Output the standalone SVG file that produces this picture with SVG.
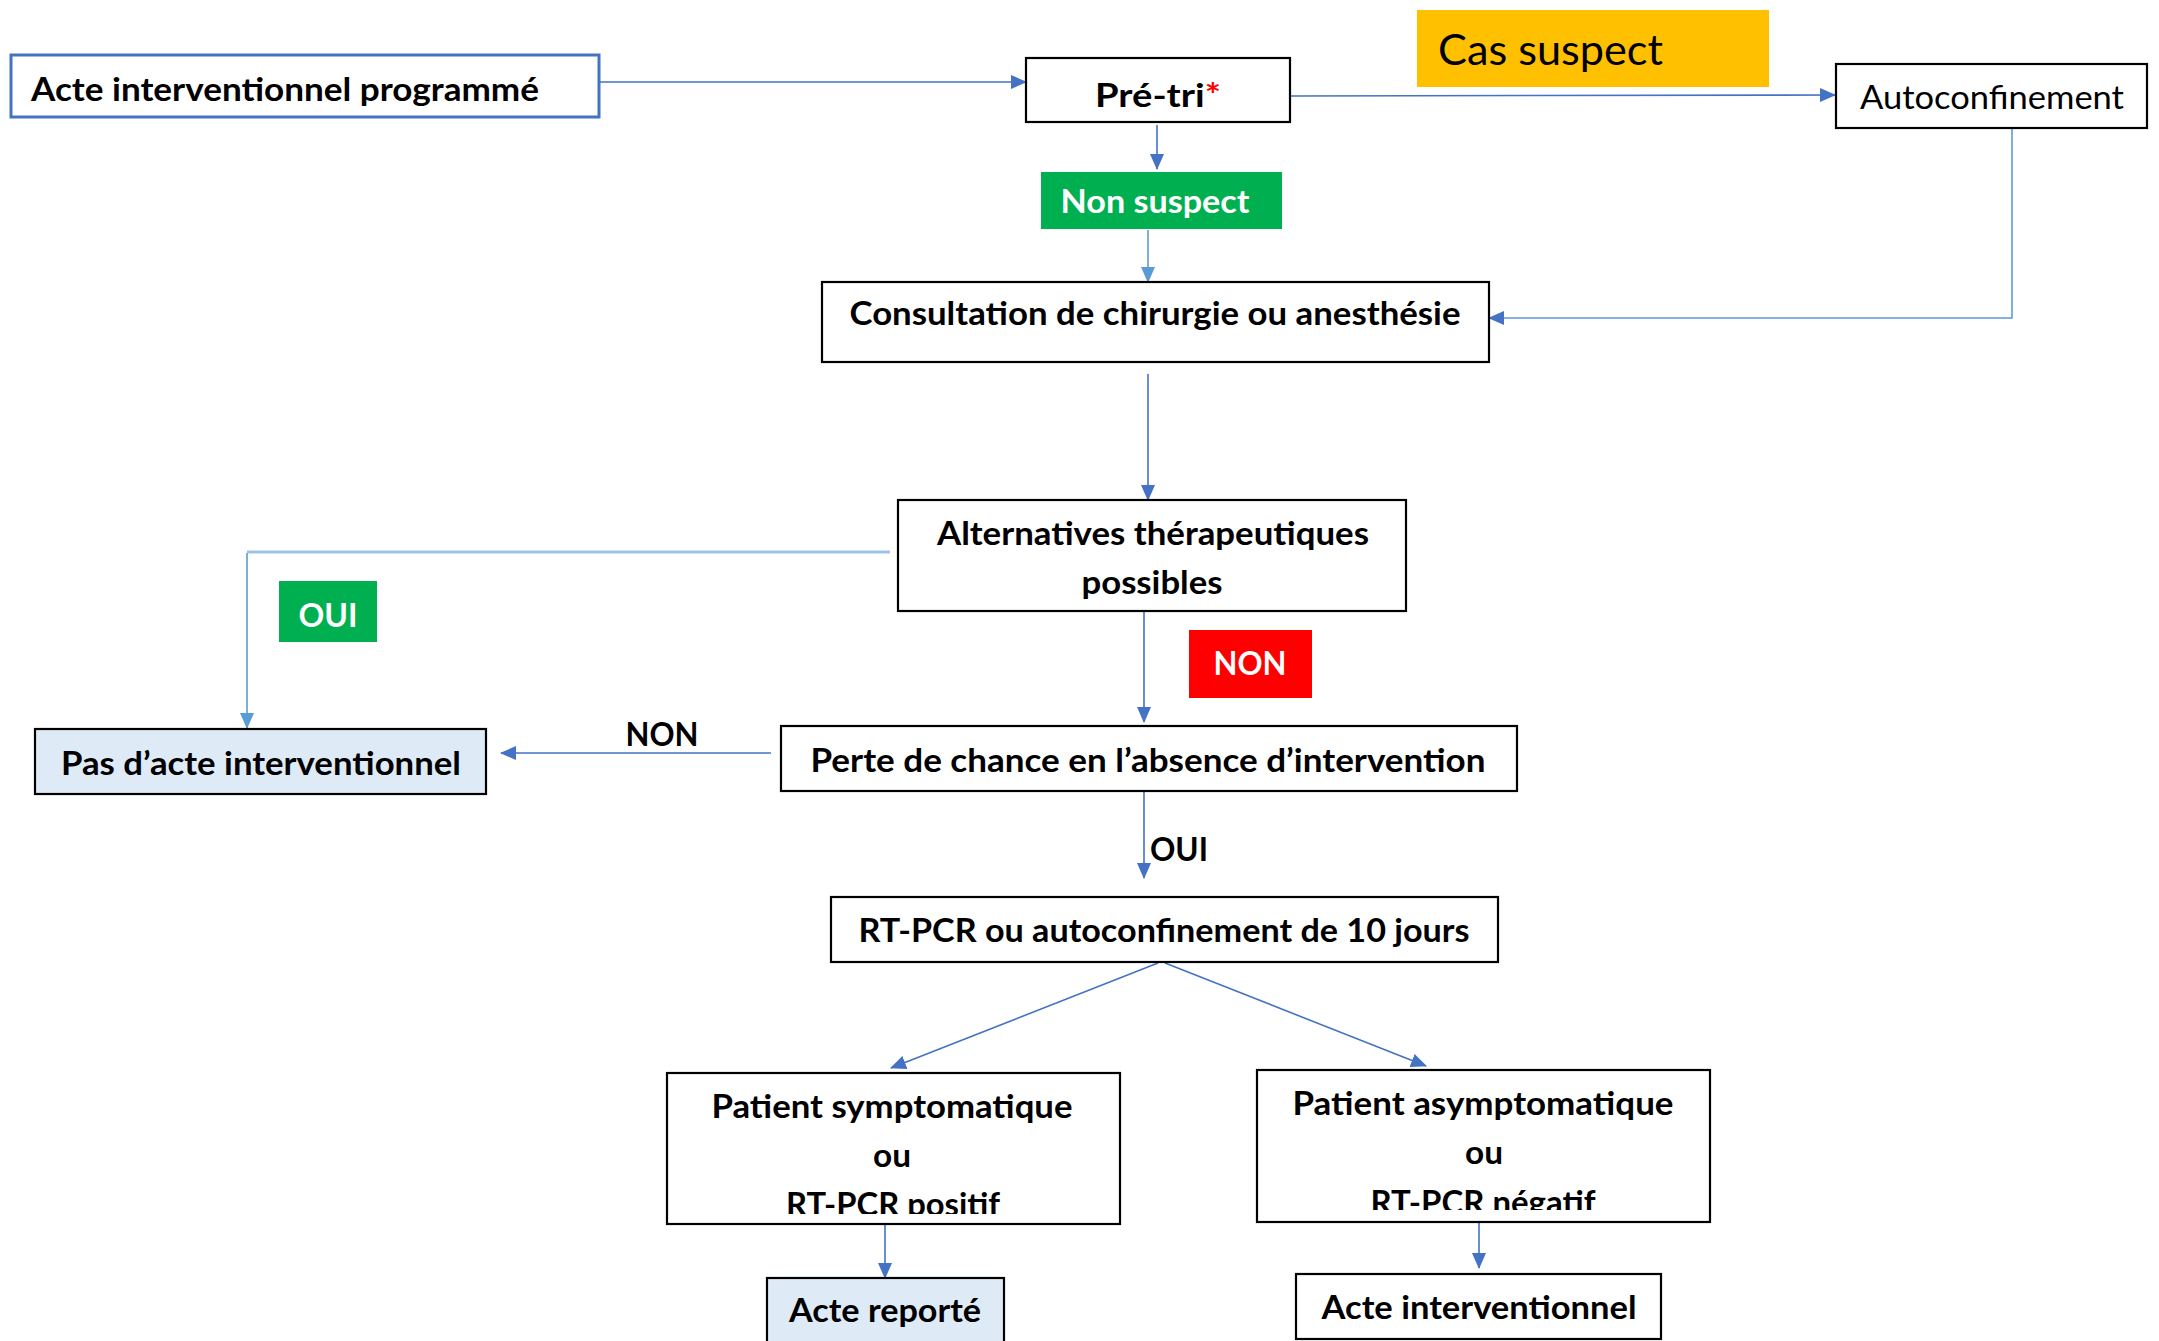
<svg xmlns="http://www.w3.org/2000/svg" width="2159" height="1341" viewBox="0 0 2159 1341">
<style>
.box{fill:#fff;stroke:#000;stroke-width:2.2}
.lb{fill:#DEEBF7;stroke:#000;stroke-width:2.2}
.t{font-family:Lato,"Open Sans",sans-serif;font-weight:bold;font-size:32px;fill:#000;text-anchor:middle}
.r{font-family:Lato,"Open Sans",sans-serif;font-weight:normal;fill:#000}
.w{fill:#fff}
.c{fill:none;stroke:#4472C4;stroke-width:1.6}
.cl{fill:none;stroke:#5B9BD5;stroke-width:1.6}
</style>
<defs>
<marker id="a" markerUnits="userSpaceOnUse" markerWidth="16" markerHeight="14" refX="15" refY="7" orient="auto"><path d="M0,0 L16,7 L0,14 Z" fill="#4472C4"/></marker>
<marker id="al" markerUnits="userSpaceOnUse" markerWidth="16" markerHeight="14" refX="15" refY="7" orient="auto"><path d="M0,0 L16,7 L0,14 Z" fill="#5B9BD5"/></marker>
<clipPath id="cp1"><rect x="667" y="1073" width="453" height="141"/></clipPath>
<clipPath id="cp2"><rect x="1257" y="1070" width="453" height="140"/></clipPath>
</defs>

<g id="connectors">
<line class="c" x1="599" y1="82" x2="1026" y2="82" stroke-width="2.4" marker-end="url(#a)"/>
<line class="c" x1="1157" y1="125" x2="1157" y2="169" marker-end="url(#a)"/>
<line class="cl" x1="1148" y1="230" x2="1148" y2="282" marker-end="url(#al)"/>
<line class="c" x1="1291" y1="96" x2="1835" y2="95" marker-end="url(#a)"/>
<polyline class="cl" points="2012,126 2012,318 1489,318" stroke-width="2" marker-end="url(#a)"/>
<line class="c" x1="1148" y1="374" x2="1148" y2="500" marker-end="url(#a)"/>
<line x1="890" y1="552" x2="247" y2="552" stroke="#9DC3E6" stroke-width="3"/>
<line class="cl" x1="247" y1="553" x2="247" y2="728" marker-end="url(#al)"/>
<line class="c" x1="1144" y1="611" x2="1144" y2="722" marker-end="url(#a)"/>
<line class="c" x1="771" y1="753" x2="501" y2="753" stroke-width="2" marker-end="url(#a)"/>
<line class="c" x1="1144" y1="791" x2="1144" y2="878" marker-end="url(#a)"/>
<line class="c" x1="1158" y1="963" x2="891" y2="1068" marker-end="url(#a)"/>
<line class="c" x1="1165" y1="963" x2="1426" y2="1066" marker-end="url(#a)"/>
<line class="c" x1="885" y1="1224" x2="885" y2="1278" marker-end="url(#a)"/>
<line class="c" x1="1479" y1="1222" x2="1479" y2="1268" marker-end="url(#a)"/>
</g>

<g id="acte-programme">
<rect x="11" y="55" width="588" height="62" fill="#fff" stroke="#4472C4" stroke-width="3"/>
<text class="t" x="285" y="101" textLength="508" lengthAdjust="spacingAndGlyphs">Acte interventionnel programmé</text>
</g>
<g id="pre-tri">
<rect class="box" x="1026" y="58" width="264" height="64"/>
<text class="t" x="1158" y="107" font-size="36" textLength="126" lengthAdjust="spacingAndGlyphs">Pré-tri<tspan fill="#FF0000">*</tspan></text>
</g>
<g id="non-suspect">
<rect x="1041" y="172" width="241" height="57" fill="#00B050"/>
<text class="t w" x="1155" y="213" textLength="189" lengthAdjust="spacingAndGlyphs">Non suspect</text>
</g>
<g id="cas-suspect">
<rect x="1417" y="10" width="352" height="77" fill="#FFC000"/>
<text class="r" x="1438" y="65" font-size="43" textLength="225" lengthAdjust="spacingAndGlyphs">Cas suspect</text>
</g>
<g id="autoconfinement">
<rect class="box" x="1836" y="64" width="311" height="64"/>
<text class="r" x="1860" y="109" font-size="33" textLength="264" lengthAdjust="spacingAndGlyphs">Autoconfinement</text>
</g>
<g id="consultation">
<rect class="box" x="822" y="282" width="667" height="80"/>
<text class="t" x="1155" y="325" textLength="611" lengthAdjust="spacingAndGlyphs">Consultation de chirurgie ou anesthésie</text>
</g>
<g id="alternatives">
<rect class="box" x="898" y="500" width="508" height="111"/>
<text class="t" x="1153" y="545" textLength="432" lengthAdjust="spacingAndGlyphs">Alternatives thérapeutiques</text>
<text class="t" x="1152" y="594" textLength="141" lengthAdjust="spacingAndGlyphs">possibles</text>
</g>
<g id="label-oui-green">
<rect x="279" y="581" width="98" height="61" fill="#00B050"/>
<text class="t w" x="328" y="627" textLength="59" lengthAdjust="spacingAndGlyphs">OUI</text>
</g>
<g id="label-non-red">
<rect x="1189" y="630" width="123" height="68" fill="#FF0000"/>
<text class="t w" x="1250" y="675" textLength="73" lengthAdjust="spacingAndGlyphs">NON</text>
</g>
<g id="pas-acte">
<rect class="lb" x="35" y="729" width="451" height="65"/>
<text class="t" x="261" y="775" textLength="400" lengthAdjust="spacingAndGlyphs">Pas d’acte interventionnel</text>
</g>
<g id="label-non">
<text class="t" x="662" y="746" textLength="73" lengthAdjust="spacingAndGlyphs">NON</text>
</g>
<g id="perte-chance">
<rect class="box" x="781" y="726" width="736" height="65"/>
<text class="t" x="1148" y="772" textLength="675" lengthAdjust="spacingAndGlyphs">Perte de chance en l’absence d’intervention</text>
</g>
<g id="label-oui">
<text class="t" x="1179" y="861" textLength="58" lengthAdjust="spacingAndGlyphs">OUI</text>
</g>
<g id="rt-pcr">
<rect class="box" x="831" y="897" width="667" height="65"/>
<text class="t" x="1164" y="942" textLength="611" lengthAdjust="spacingAndGlyphs">RT-PCR ou autoconfinement de 10 jours</text>
</g>
<g id="patient-symptomatique">
<rect class="box" x="667" y="1073" width="453" height="151"/>
<g clip-path="url(#cp1)">
<text class="t" x="892" y="1118" textLength="361" lengthAdjust="spacingAndGlyphs">Patient symptomatique</text>
<text class="t" x="892" y="1167" textLength="38" lengthAdjust="spacingAndGlyphs">ou</text>
<text class="t" x="893" y="1216" textLength="214" lengthAdjust="spacingAndGlyphs">RT-PCR positif</text>
</g>
</g>
<g id="patient-asymptomatique">
<rect class="box" x="1257" y="1070" width="453" height="152"/>
<g clip-path="url(#cp2)">
<text class="t" x="1483" y="1115" textLength="381" lengthAdjust="spacingAndGlyphs">Patient asymptomatique</text>
<text class="t" x="1484" y="1164" textLength="38" lengthAdjust="spacingAndGlyphs">ou</text>
<text class="t" x="1483" y="1214" textLength="225" lengthAdjust="spacingAndGlyphs">RT-PCR négatif</text>
</g>
</g>
<g id="acte-reporte">
<rect class="lb" x="767" y="1278" width="237" height="66"/>
<text class="t" x="885" y="1322" textLength="192" lengthAdjust="spacingAndGlyphs">Acte reporté</text>
</g>
<g id="acte-interventionnel">
<rect class="box" x="1296" y="1274" width="365" height="65"/>
<text class="t" x="1479" y="1319" textLength="315" lengthAdjust="spacingAndGlyphs">Acte interventionnel</text>
</g>
</svg>
